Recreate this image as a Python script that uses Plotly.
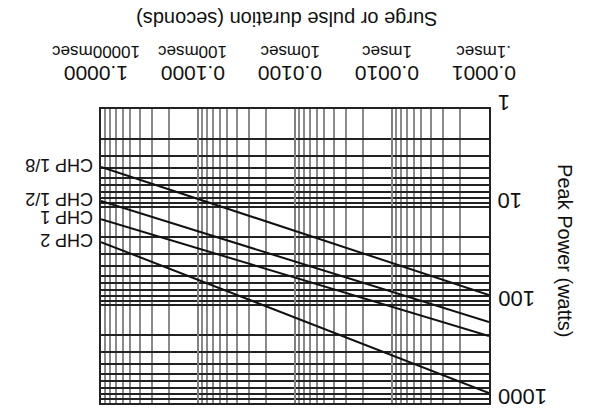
import math
import plotly.graph_objects as go

# Data
durations = [0.0001, 1.0]          # seconds (endpoints of each straight log-log line)
chp_1_8 = [79, 3.9]
chp_1_2 = [149, 8.7]
chp_1 = [207, 13.3]
chp_2 = [791, 22.8]
series = [("CHP 1/8", chp_1_8), ("CHP 1/2", chp_1_2), ("CHP 1", chp_1), ("CHP 2", chp_2)]

x_tickvals = [0.0001, 0.001, 0.01, 0.1, 1.0]
x_ticknums = ["0.0001", "0.0010", "0.0100", "0.1000", "1.0000"]
x_tickunits = [".1msec", "1msec", "10msec", "100msec", "10000msec"]
y_tickvals = [1, 10, 100, 1000]
y_ticktext = ["1", "10", "100", "1000"]

FONT = "Liberation Sans"
INK = "#111111"

x_minor = [m * 10.0 ** e for e in range(-4, 0) for m in range(2, 10)]
y_minor = [m * 10.0 ** e for e in range(0, 3) for m in range(2, 10)]

fig = go.Figure()
for name, vals in series:
    fig.add_trace(go.Scatter(x=durations, y=vals, mode="lines",
                             line=dict(color=INK, width=2), name=name,
                             showlegend=False, hoverinfo="skip"))
    fig.add_annotation(x=0, y=math.log10(vals[1]), xref="x", yref="y",
                       text=name, showarrow=False, textangle=180,
                       xanchor="right", yanchor="middle", xshift=-6, yshift=2,
                       font=dict(family=FONT, size=18, color=INK))

# x tick labels (upside-down, above the plot)
for v, num, unit in zip(x_tickvals, x_ticknums, x_tickunits):
    fig.add_annotation(x=math.log10(v), y=1.0, xref="x", yref="paper",
                       text=num, showarrow=False, textangle=180,
                       xanchor="center", yanchor="middle", xshift=-5, yshift=35,
                       font=dict(family=FONT, size=21, color=INK))
    fig.add_annotation(x=math.log10(v), y=1.0, xref="x", yref="paper",
                       text=unit, showarrow=False, textangle=180,
                       xanchor="center", yanchor="middle", xshift=-5, yshift=57,
                       font=dict(family=FONT, size=17, color=INK))

# y tick labels (upside-down, right of the plot)
for v, t in zip(y_tickvals, y_ticktext):
    fig.add_annotation(x=1.0, y=math.log10(v), xref="paper", yref="y",
                       text=t, showarrow=False, textangle=180,
                       xanchor="left", yanchor="middle", xshift=7, yshift=6,
                       font=dict(family=FONT, size=22, color=INK))

fig.update_xaxes(type="log", range=[0, -4], side="top",
                 tickvals=x_tickvals, showticklabels=False,
                 ticks="", showgrid=True, gridcolor="#808080", gridwidth=2,
                 minor=dict(tickvals=x_minor, showgrid=True, gridcolor="#8a8a8a", gridwidth=2, ticks=""),
                 showline=True, linecolor="#222222", linewidth=2, mirror=True,
                 zeroline=False)
fig.update_yaxes(type="log", range=[3, 0], side="right",
                 tickvals=y_tickvals, showticklabels=False,
                 ticks="", showgrid=True, gridcolor="#222222", gridwidth=1.5,
                 minor=dict(tickvals=y_minor, showgrid=True, gridcolor="#222222", gridwidth=1.5, ticks=""),
                 showline=True, linecolor="#222222", linewidth=2, mirror=True,
                 zeroline=False)

fig.add_annotation(x=0.48, y=1.0, xref="paper", yref="paper", yshift=90,
                   text="Surge or pulse duration (seconds)", showarrow=False,
                   textangle=180, font=dict(family=FONT, size=20, color=INK),
                   xanchor="center", yanchor="middle")
fig.add_annotation(x=1.0, y=0.52, xref="paper", yref="paper", xshift=76,
                   text="Peak Power (watts)", showarrow=False,
                   textangle=90, font=dict(family=FONT, size=20, color=INK),
                   xanchor="center", yanchor="middle")

fig.update_layout(width=596, height=408, margin=dict(l=93, r=115, t=101, b=13),
                  paper_bgcolor="white", plot_bgcolor="white")

fig.write_html("out.html")
